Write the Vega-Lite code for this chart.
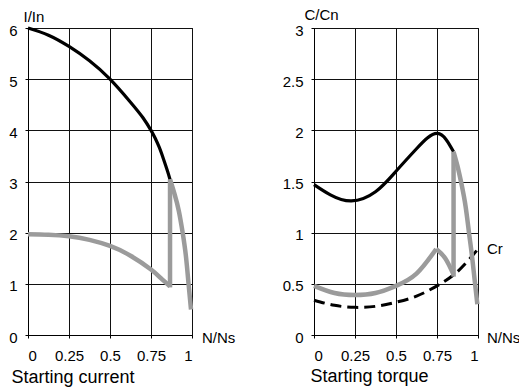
{
  "$schema": "https://vega.github.io/schema/vega-lite/v6.json",
  "background": "white",
  "padding": {"left": 8, "top": 6, "right": 0, "bottom": 0},
  "bounds": "flush",
  "spacing": 122,
  "config": {
    "font": "Liberation Sans",
    "view": {"stroke": "black", "strokeWidth": 1},
    "axis": {
      "labelFont": "Liberation Sans",
      "labelFontSize": 15,
      "labelColor": "black",
      "titleFont": "Liberation Sans",
      "titleFontSize": 15,
      "titleFontWeight": "normal",
      "titleColor": "black",
      "domainColor": "black",
      "gridColor": "#111",
      "gridOpacity": 1,
      "tickColor": "black",
      "tickSize": 3
    },
    "text": {"font": "Liberation Sans", "fontSize": 15, "color": "black"}
  },
  "datasets": {
    "curves": [
      {"panel": "L", "s": "black", "seg": "a", "o": 1, "x": 0, "y": 6},
      {"panel": "L", "s": "black", "seg": "a", "o": 2, "x": 0.125, "y": 5.86},
      {"panel": "L", "s": "black", "seg": "a", "o": 3, "x": 0.25, "y": 5.64},
      {"panel": "L", "s": "black", "seg": "a", "o": 4, "x": 0.375, "y": 5.36},
      {"panel": "L", "s": "black", "seg": "a", "o": 5, "x": 0.5, "y": 5.0},
      {"panel": "L", "s": "black", "seg": "a", "o": 6, "x": 0.625, "y": 4.55},
      {"panel": "L", "s": "black", "seg": "a", "o": 7, "x": 0.7, "y": 4.25},
      {"panel": "L", "s": "black", "seg": "a", "o": 8, "x": 0.75, "y": 4.0},
      {"panel": "L", "s": "black", "seg": "a", "o": 9, "x": 0.775, "y": 3.85},
      {"panel": "L", "s": "black", "seg": "a", "o": 10, "x": 0.8, "y": 3.67},
      {"panel": "L", "s": "black", "seg": "a", "o": 11, "x": 0.825, "y": 3.45},
      {"panel": "L", "s": "black", "seg": "a", "o": 12, "x": 0.85, "y": 3.21},
      {"panel": "L", "s": "black", "seg": "a", "o": 13, "x": 0.866, "y": 3.04},

      {"panel": "L", "s": "gray", "seg": "a", "o": 1, "x": 0, "y": 1.97},
      {"panel": "L", "s": "gray", "seg": "a", "o": 2, "x": 0.125, "y": 1.96},
      {"panel": "L", "s": "gray", "seg": "a", "o": 3, "x": 0.25, "y": 1.93},
      {"panel": "L", "s": "gray", "seg": "a", "o": 4, "x": 0.375, "y": 1.86},
      {"panel": "L", "s": "gray", "seg": "a", "o": 5, "x": 0.5, "y": 1.74},
      {"panel": "L", "s": "gray", "seg": "a", "o": 6, "x": 0.625, "y": 1.55},
      {"panel": "L", "s": "gray", "seg": "a", "o": 7, "x": 0.75, "y": 1.28},
      {"panel": "L", "s": "gray", "seg": "a", "o": 8, "x": 0.81, "y": 1.11},
      {"panel": "L", "s": "gray", "seg": "a", "o": 9, "x": 0.866, "y": 0.95},
      {"panel": "L", "s": "gray", "seg": "b", "o": 1, "x": 0.866, "y": 0.93},
      {"panel": "L", "s": "gray", "seg": "b", "o": 2, "x": 0.866, "y": 3.04},
      {"panel": "L", "s": "gray", "seg": "c", "o": 1, "x": 0.866, "y": 3.04},
      {"panel": "L", "s": "gray", "seg": "c", "o": 2, "x": 0.895, "y": 2.74},
      {"panel": "L", "s": "gray", "seg": "c", "o": 3, "x": 0.92, "y": 2.42},
      {"panel": "L", "s": "gray", "seg": "c", "o": 4, "x": 0.943, "y": 2.0},
      {"panel": "L", "s": "gray", "seg": "c", "o": 5, "x": 0.963, "y": 1.54},
      {"panel": "L", "s": "gray", "seg": "c", "o": 6, "x": 0.979, "y": 1.0},
      {"panel": "L", "s": "gray", "seg": "c", "o": 7, "x": 0.994, "y": 0.5},

      {"panel": "R", "s": "black", "seg": "a", "o": 1, "x": 0, "y": 1.47},
      {"panel": "R", "s": "black", "seg": "a", "o": 2, "x": 0.1, "y": 1.37},
      {"panel": "R", "s": "black", "seg": "a", "o": 3, "x": 0.228, "y": 1.31},
      {"panel": "R", "s": "black", "seg": "a", "o": 4, "x": 0.375, "y": 1.4},
      {"panel": "R", "s": "black", "seg": "a", "o": 5, "x": 0.5, "y": 1.6},
      {"panel": "R", "s": "black", "seg": "a", "o": 6, "x": 0.625, "y": 1.82},
      {"panel": "R", "s": "black", "seg": "a", "o": 7, "x": 0.753, "y": 1.97},
      {"panel": "R", "s": "black", "seg": "a", "o": 8, "x": 0.851, "y": 1.79},

      {"panel": "R", "s": "gray", "seg": "a", "o": 1, "x": 0, "y": 0.48},
      {"panel": "R", "s": "gray", "seg": "a", "o": 2, "x": 0.125, "y": 0.41},
      {"panel": "R", "s": "gray", "seg": "a", "o": 3, "x": 0.25, "y": 0.39},
      {"panel": "R", "s": "gray", "seg": "a", "o": 4, "x": 0.375, "y": 0.41},
      {"panel": "R", "s": "gray", "seg": "a", "o": 5, "x": 0.5, "y": 0.48},
      {"panel": "R", "s": "gray", "seg": "a", "o": 6, "x": 0.625, "y": 0.6},
      {"panel": "R", "s": "gray", "seg": "a", "o": 7, "x": 0.745, "y": 0.84},
      {"panel": "R", "s": "gray", "seg": "d", "o": 1, "x": 0.745, "y": 0.84},
      {"panel": "R", "s": "gray", "seg": "d", "o": 2, "x": 0.8, "y": 0.75},
      {"panel": "R", "s": "gray", "seg": "d", "o": 3, "x": 0.851, "y": 0.59},
      {"panel": "R", "s": "gray", "seg": "b", "o": 1, "x": 0.851, "y": 0.57},
      {"panel": "R", "s": "gray", "seg": "b", "o": 2, "x": 0.851, "y": 1.79},
      {"panel": "R", "s": "gray", "seg": "c", "o": 1, "x": 0.851, "y": 1.79},
      {"panel": "R", "s": "gray", "seg": "c", "o": 2, "x": 0.875, "y": 1.65},
      {"panel": "R", "s": "gray", "seg": "c", "o": 3, "x": 0.9, "y": 1.47},
      {"panel": "R", "s": "gray", "seg": "c", "o": 4, "x": 0.925, "y": 1.25},
      {"panel": "R", "s": "gray", "seg": "c", "o": 5, "x": 0.945, "y": 1.0},
      {"panel": "R", "s": "gray", "seg": "c", "o": 6, "x": 0.965, "y": 0.75},
      {"panel": "R", "s": "gray", "seg": "c", "o": 7, "x": 0.996, "y": 0.3},

      {"panel": "R", "s": "dash", "seg": "a", "o": 1, "x": 0, "y": 0.34},
      {"panel": "R", "s": "dash", "seg": "a", "o": 2, "x": 0.125, "y": 0.29},
      {"panel": "R", "s": "dash", "seg": "a", "o": 3, "x": 0.25, "y": 0.27},
      {"panel": "R", "s": "dash", "seg": "a", "o": 4, "x": 0.375, "y": 0.28},
      {"panel": "R", "s": "dash", "seg": "a", "o": 5, "x": 0.5, "y": 0.32},
      {"panel": "R", "s": "dash", "seg": "a", "o": 6, "x": 0.625, "y": 0.38},
      {"panel": "R", "s": "dash", "seg": "a", "o": 7, "x": 0.75, "y": 0.48},
      {"panel": "R", "s": "dash", "seg": "a", "o": 8, "x": 0.875, "y": 0.62},
      {"panel": "R", "s": "dash", "seg": "a", "o": 9, "x": 1.0, "y": 0.84}
    ],
    "notes": [
      {"panel": "L", "x": 1, "y": 0, "label": "N/Ns"},
      {"panel": "R", "x": 1, "y": 0, "label": "N/Ns"},
      {"panel": "R", "x": 1, "y": 0.87, "label": "Cr"}
    ]
  },
  "hconcat": [
    {
      "width": 164,
      "height": 307,
      "layer": [
        {
          "data": {"name": "curves"},
          "transform": [{"filter": "datum.panel == 'L' && datum.s == 'black'"}],
          "mark": {"type": "line", "color": "black", "strokeWidth": 3.2, "interpolate": "natural"},
          "encoding": {
            "x": {"field": "x", "type": "quantitative",
              "scale": {"domain": [0, 1], "nice": false},
              "axis": {"values": [0, 0.25, 0.5, 0.75, 1], "labelExpr": "'' + datum.value", "labelPadding": 10,
                "title": "Starting current", "titleFontSize": 18, "titleAlign": "left", "titleBaseline": "alphabetic",
                "titleAnchor": "start", "titleX": -17, "titleY": 47}},
            "y": {"field": "y", "type": "quantitative",
              "scale": {"domain": [0, 6], "nice": false},
              "axis": {"values": [0, 1, 2, 3, 4, 5, 6], "labelPadding": 8, "labelOffset": 2,
                "title": "I/In", "titleAngle": 0, "titleAlign": "left", "titleBaseline": "alphabetic",
                "titleX": -5, "titleY": -7}},
            "order": {"field": "o", "type": "quantitative"}
          }
        },
        {
          "data": {"name": "curves"},
          "transform": [{"filter": "datum.panel == 'L' && datum.s == 'gray'"}],
          "mark": {"type": "line", "color": "#9b9b9b", "strokeWidth": 4.5, "strokeCap": "butt", "interpolate": "natural"},
          "encoding": {
            "x": {"field": "x", "type": "quantitative"},
            "y": {"field": "y", "type": "quantitative"},
            "detail": {"field": "seg"},
            "order": {"field": "o", "type": "quantitative"}
          }
        },
        {
          "data": {"name": "notes"},
          "transform": [{"filter": "datum.panel == 'L'"}],
          "mark": {"type": "text", "align": "left", "baseline": "middle", "dx": 10, "dy": 3},
          "encoding": {
            "x": {"field": "x", "type": "quantitative"},
            "y": {"field": "y", "type": "quantitative"},
            "text": {"field": "label"}
          }
        }
      ]
    },
    {
      "width": 164,
      "height": 307,
      "layer": [
        {
          "data": {"name": "curves"},
          "transform": [{"filter": "datum.panel == 'R' && datum.s == 'black'"}],
          "mark": {"type": "line", "color": "black", "strokeWidth": 3.2, "interpolate": "natural"},
          "encoding": {
            "x": {"field": "x", "type": "quantitative",
              "scale": {"domain": [0, 1], "nice": false},
              "axis": {"values": [0, 0.25, 0.5, 0.75, 1], "labelExpr": "'' + datum.value", "labelPadding": 10,
                "title": "Starting torque", "titleFontSize": 18, "titleAlign": "left", "titleBaseline": "alphabetic",
                "titleAnchor": "start", "titleX": -4, "titleY": 46}},
            "y": {"field": "y", "type": "quantitative",
              "scale": {"domain": [0, 3], "nice": false},
              "axis": {"values": [0, 0.5, 1, 1.5, 2, 2.5, 3], "labelExpr": "'' + datum.value", "labelPadding": 8, "labelOffset": 2,
                "title": "C/Cn", "titleAngle": 0, "titleAlign": "left", "titleBaseline": "alphabetic",
                "titleX": -10, "titleY": -9}},
            "order": {"field": "o", "type": "quantitative"}
          }
        },
        {
          "data": {"name": "curves"},
          "transform": [{"filter": "datum.panel == 'R' && datum.s == 'dash'"}],
          "mark": {"type": "line", "color": "black", "strokeWidth": 3, "strokeDash": [11, 6], "interpolate": "natural"},
          "encoding": {
            "x": {"field": "x", "type": "quantitative"},
            "y": {"field": "y", "type": "quantitative"},
            "order": {"field": "o", "type": "quantitative"}
          }
        },
        {
          "data": {"name": "curves"},
          "transform": [{"filter": "datum.panel == 'R' && datum.s == 'gray'"}],
          "mark": {"type": "line", "color": "#9b9b9b", "strokeWidth": 4.5, "strokeCap": "butt", "interpolate": "natural"},
          "encoding": {
            "x": {"field": "x", "type": "quantitative"},
            "y": {"field": "y", "type": "quantitative"},
            "detail": {"field": "seg"},
            "order": {"field": "o", "type": "quantitative"}
          }
        },
        {
          "data": {"name": "notes"},
          "transform": [{"filter": "datum.panel == 'R'"}],
          "mark": {"type": "text", "align": "left", "baseline": "middle", "dx": 9, "dy": 3},
          "encoding": {
            "x": {"field": "x", "type": "quantitative"},
            "y": {"field": "y", "type": "quantitative"},
            "text": {"field": "label"}
          }
        }
      ]
    }
  ]
}
